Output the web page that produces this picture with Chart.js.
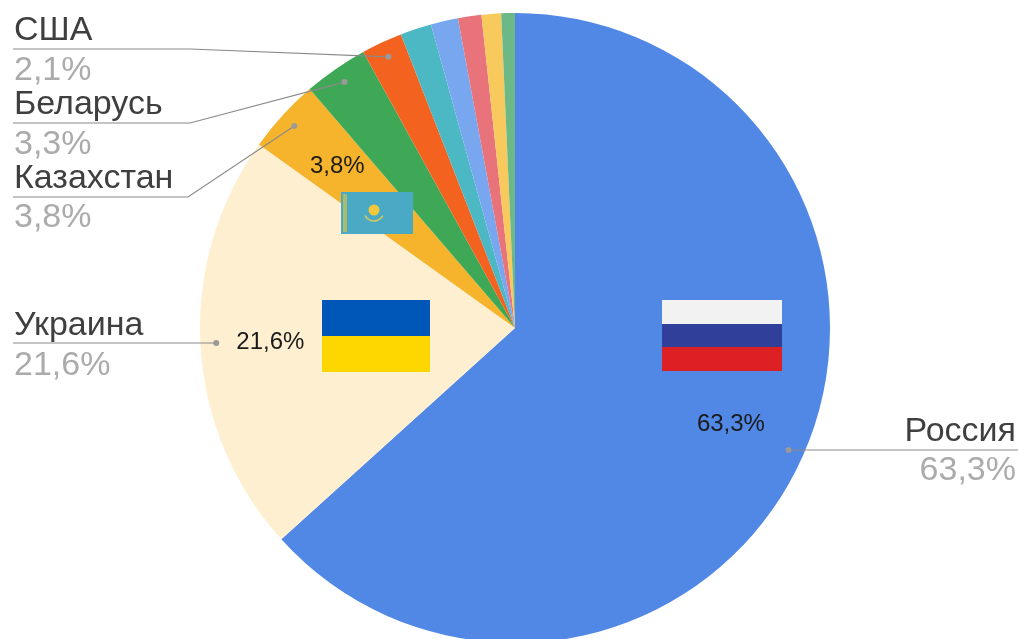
<!DOCTYPE html>
<html lang="ru"><head><meta charset="utf-8">
<style>html,body{margin:0;padding:0;background:#fff;overflow:hidden;width:1020px;height:639px}canvas{display:block;filter:blur(0.45px)}</style>
<script src="https://cdn.jsdelivr.net/npm/chart.js@4"></script>
</head><body><canvas id="c" width="1020" height="656"></canvas>
<script>
const categories = ["Россия","Украина","Казахстан","Беларусь","США","","","","",""];
const shares = [63.3,21.6,3.8,3.3,2.1,1.6,1.4,1.2,1.0,0.7];
const sliceColors = ["#5187e5","#fdefd0","#f6b42c","#3fa857","#f4621f","#4cb8c4","#78a7f0","#e8737a","#f8c95c","#6cb987"];
// slice index, radial position of the label
const insideLabelled = [[0,0.75],[1,0.778],[2,0.765]];
// index, text x, name baseline, pct baseline, align, line y, line end x, elbow x
const callouts = [
  [0,1016,441,480,"right",450,1018,null],
  [1,14,335,375,"left",343,13,null],
  [2,14,188,227,"left",197,13,188],
  [3,14,114,154,"left",123,13,190],
  [4,14,40,80,"left",49,13,190]
];
const pct = v => v.toFixed(1).replace(".",",")+"%";
const FONT = '"Liberation Sans", Arial, sans-serif';

const overlay = {
  id:"overlay",
  afterDatasetsDraw(chart){
    const ctx = chart.ctx, arcs = chart.getDatasetMeta(0).data;
    const at = (i,f)=>{const a=arcs[i],m=(a.startAngle+a.endAngle)/2;
      return [a.x+Math.cos(m)*a.outerRadius*f, a.y+Math.sin(m)*a.outerRadius*f];};
    ctx.save();
    // flags
    const rect=(c,x,y,w,h)=>{ctx.fillStyle=c;ctx.fillRect(x,y,w,h);};
    rect("#f2f2f2",662,300,120,24);rect("#2f3f9a",662,324,120,23);rect("#dd2024",662,347,120,24);
    rect("#0057b8",322,300,108,36);rect("#ffd700",322,336,108,36);
    rect("#4aa9c4",341,192,72,42);
    rect("#a9bb6c",343,194,4,38);
    ctx.fillStyle="#f3c83c";ctx.beginPath();ctx.arc(374,210,5.5,0,Math.PI*2);ctx.fill();
    ctx.strokeStyle="#d9c85c";ctx.lineWidth=1.5;ctx.beginPath();ctx.arc(374,211,10,0.15*Math.PI,0.85*Math.PI);ctx.stroke();
    // inside labels
    ctx.font="24px "+FONT;ctx.textAlign="center";ctx.textBaseline="middle";ctx.fillStyle="#1a1a1a";
    insideLabelled.forEach(([i,f])=>{const [x,y]=at(i,f);ctx.fillText(pct(shares[i]),x,y+1);});
    // callouts
    callouts.forEach(([i,tx,b1,b2,al,ly,lx,ex])=>{
      const [dx,dy]=at(i,0.95);
      ctx.strokeStyle="#8a8a8a";ctx.lineWidth=1.2;ctx.beginPath();ctx.moveTo(lx,ly);
      if(ex!==null) ctx.lineTo(ex,ly);
      ctx.lineTo(dx,ex===null?ly:dy);ctx.stroke();
      ctx.fillStyle="#9a9a9a";ctx.beginPath();ctx.arc(dx,ex===null?ly:dy,3,0,Math.PI*2);ctx.fill();
      ctx.textAlign=al;ctx.textBaseline="alphabetic";
      ctx.font="34px "+FONT;ctx.fillStyle="#3f3f3f";ctx.fillText(categories[i],tx,b1);
      ctx.fillStyle="#ababab";ctx.fillText(pct(shares[i]),tx,b2);
    });
    ctx.restore();
  }
};

new Chart(document.getElementById("c"),{
  type:"pie",
  data:{labels:categories,datasets:[{data:shares,backgroundColor:sliceColors,borderWidth:0,hoverOffset:0}]},
  options:{responsive:false,animation:false,rotation:0,
    layout:{padding:{left:200,right:190,top:13,bottom:13}},
    plugins:{legend:{display:false},tooltip:{enabled:false}}},
  plugins:[overlay]
});
</script></body></html>
